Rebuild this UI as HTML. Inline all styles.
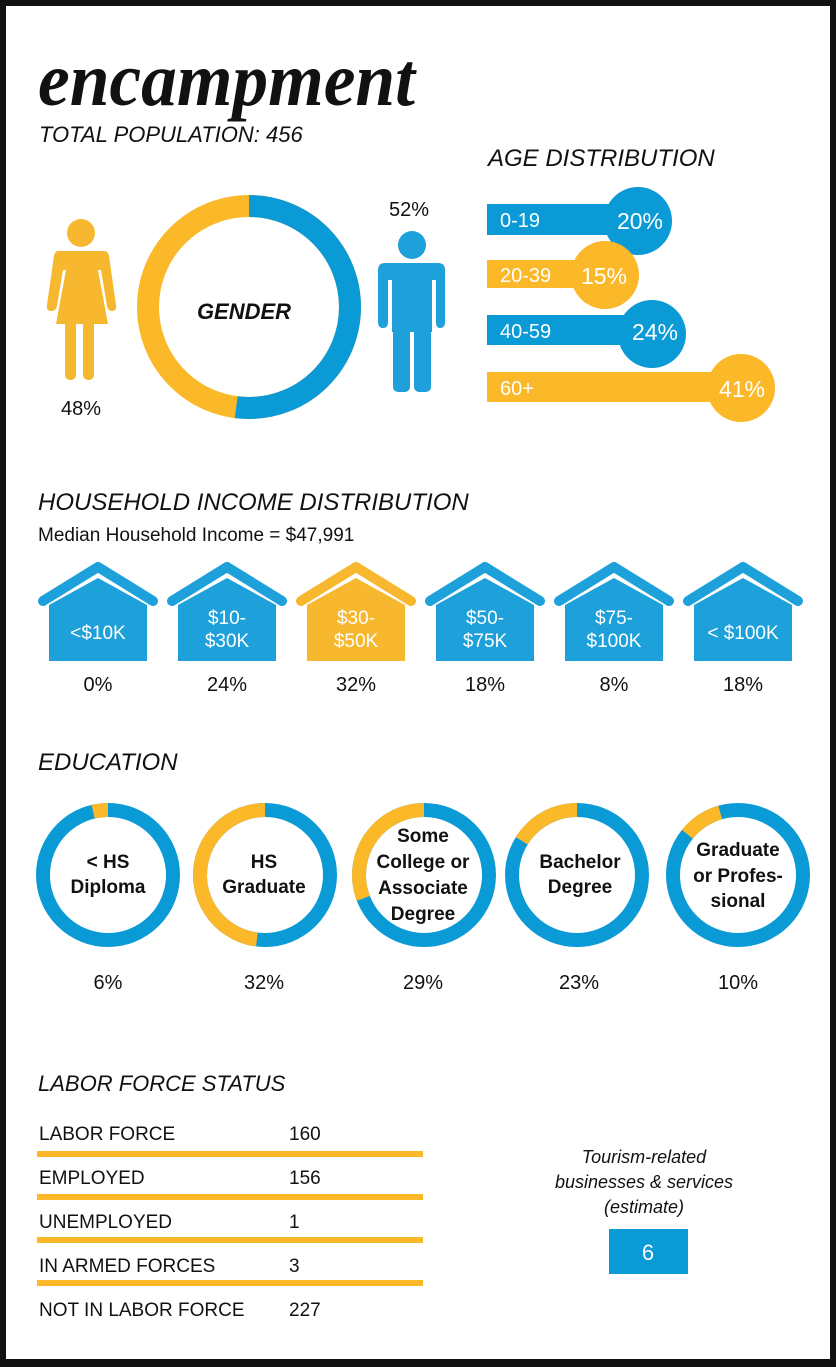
<!DOCTYPE html>
<html><head><meta charset="utf-8"><style>
html,body{margin:0;padding:0;background:#000;}
svg{display:block;}
text{font-family:"Liberation Sans",sans-serif;}
text.serif{font-family:"Liberation Serif",serif;}
</style></head><body>
<svg width="836" height="1367" viewBox="0 0 836 1367" xmlns="http://www.w3.org/2000/svg">
<rect x="0" y="0" width="836" height="1367" fill="#111"/>
<rect x="6" y="6" width="824" height="1353" fill="#fff"/>
<text class="serif" x="38" y="105" font-style="italic" font-weight="bold" font-size="76" textLength="377" lengthAdjust="spacingAndGlyphs" fill="#111">encampment</text>
<text x="39" y="142" font-style="italic" font-size="22" fill="#111">TOTAL POPULATION: 456</text>

<!-- gender donut -->
<g transform="translate(249,307)">
<circle r="101" fill="none" stroke="#fbb829" stroke-width="22"/>
<circle r="101" fill="none" stroke="#0a9ad6" stroke-width="22" stroke-dasharray="330 1000" transform="rotate(-90)"/>
</g>
<text x="244" y="319" text-anchor="middle" font-style="italic" font-weight="bold" font-size="22" fill="#111">GENDER</text>
<!-- female -->
<g fill="#f7b72e">
<circle cx="81" cy="233" r="14"/>
<path d="M58 251 L104 251 Q108 251 109 256 L116 305 Q117 311 112 311 Q108 311 107 306 L101 270 L98 270 L108 324 L56 324 L66 270 L63 270 L57 306 Q56 311 51 311 Q46 311 47 305 L54 256 Q55 251 58 251 Z"/>
<rect x="65" y="320" width="11" height="60" rx="5"/>
<rect x="83" y="320" width="11" height="60" rx="5"/>
</g>
<text x="81" y="415" text-anchor="middle" font-size="20" fill="#111">48%</text>
<!-- male -->
<g fill="#1ea0da">
<circle cx="412" cy="245" r="14"/>
<path d="M385 263 L438 263 Q445 263 445 270 L445 322 Q445 328 440 328 Q436 328 436 322 L436 280 L432 280 L432 332 L392 332 L392 280 L388 280 L388 322 Q388 328 383 328 Q378 328 378 322 L378 270 Q378 263 385 263 Z"/>
<rect x="393" y="320" width="17" height="72" rx="5"/>
<rect x="414" y="320" width="17" height="72" rx="5"/>
</g>
<text x="409" y="216" text-anchor="middle" font-size="20" fill="#111">52%</text>

<!-- age distribution -->
<text x="488" y="166" font-style="italic" font-size="24" fill="#111">AGE DISTRIBUTION</text>
<g font-size="20" fill="#fff">
<rect x="487" y="204" width="151" height="31" fill="#0a9ad6"/><circle cx="638" cy="221" r="34" fill="#0a9ad6"/>
<text x="500" y="227">0-19</text><text x="663" y="229" text-anchor="end" font-size="23">20%</text>
<rect x="487" y="260" width="118" height="28" fill="#fbb829"/><circle cx="605" cy="275" r="34" fill="#fbb829"/>
<text x="500" y="282">20-39</text><text x="627" y="284" text-anchor="end" font-size="23">15%</text>
<rect x="487" y="315" width="165" height="30" fill="#0a9ad6"/><circle cx="652" cy="334" r="34" fill="#0a9ad6"/>
<text x="500" y="338">40-59</text><text x="678" y="340" text-anchor="end" font-size="23">24%</text>
<rect x="487" y="372" width="254" height="30" fill="#fbb829"/><circle cx="741" cy="388" r="34" fill="#fbb829"/>
<text x="500" y="395">60+</text><text x="765" y="397" text-anchor="end" font-size="23">41%</text>
</g>

<!-- household income -->
<text x="38" y="510" font-style="italic" font-size="24" fill="#111">HOUSEHOLD INCOME DISTRIBUTION</text>
<text x="38" y="541" font-size="19" fill="#111">Median Household Income = $47,991</text>
<g>
<polyline points="43,601 98,567 153,601" fill="none" stroke="#1ea0da" stroke-width="10" stroke-linecap="round" stroke-linejoin="round"/>
<polygon points="49,661 49,605 98,578 147,605 147,661" fill="#1ea0da"/>
</g>
<g transform="translate(129,0)">
<polyline points="43,601 98,567 153,601" fill="none" stroke="#1ea0da" stroke-width="10" stroke-linecap="round" stroke-linejoin="round"/>
<polygon points="49,661 49,605 98,578 147,605 147,661" fill="#1ea0da"/>
</g>
<g transform="translate(258,0)">
<polyline points="43,601 98,567 153,601" fill="none" stroke="#f7b72e" stroke-width="10" stroke-linecap="round" stroke-linejoin="round"/>
<polygon points="49,661 49,605 98,578 147,605 147,661" fill="#f7b72e"/>
</g>
<g transform="translate(387,0)">
<polyline points="43,601 98,567 153,601" fill="none" stroke="#1ea0da" stroke-width="10" stroke-linecap="round" stroke-linejoin="round"/>
<polygon points="49,661 49,605 98,578 147,605 147,661" fill="#1ea0da"/>
</g>
<g transform="translate(516,0)">
<polyline points="43,601 98,567 153,601" fill="none" stroke="#1ea0da" stroke-width="10" stroke-linecap="round" stroke-linejoin="round"/>
<polygon points="49,661 49,605 98,578 147,605 147,661" fill="#1ea0da"/>
</g>
<g transform="translate(645,0)">
<polyline points="43,601 98,567 153,601" fill="none" stroke="#1ea0da" stroke-width="10" stroke-linecap="round" stroke-linejoin="round"/>
<polygon points="49,661 49,605 98,578 147,605 147,661" fill="#1ea0da"/>
</g>
<g font-size="19" fill="#fff" text-anchor="middle">
<text x="98" y="639">&lt;$10K</text>
<text x="227" y="624">$10-</text><text x="227" y="647">$30K</text>
<text x="356" y="624">$30-</text><text x="356" y="647">$50K</text>
<text x="485" y="624">$50-</text><text x="485" y="647">$75K</text>
<text x="614" y="624">$75-</text><text x="614" y="647">$100K</text>
<text x="743" y="639">&lt; $100K</text>
</g>
<g font-size="20" fill="#111" text-anchor="middle">
<text x="98" y="691">0%</text><text x="227" y="691">24%</text><text x="356" y="691">32%</text>
<text x="485" y="691">18%</text><text x="614" y="691">8%</text><text x="743" y="691">18%</text>
</g>

<!-- education -->
<text x="38" y="770" font-style="italic" font-size="24" fill="#111">EDUCATION</text>
<g fill="none" stroke-width="14">
<g transform="translate(108,875)"><circle r="65" stroke="#0a9ad6"/><circle r="65" stroke="#fbb829" stroke-dasharray="15 1000" transform="rotate(-90) scale(1,-1)"/></g>
<g transform="translate(265,875)"><circle r="65" stroke="#0a9ad6"/><circle r="65" stroke="#fbb829" stroke-dasharray="196 1000" transform="rotate(-90) scale(1,-1)"/></g>
<g transform="translate(424,875)"><circle r="65" stroke="#0a9ad6"/><circle r="65" stroke="#fbb829" stroke-dasharray="126 1000" transform="rotate(-90) scale(1,-1)"/></g>
<g transform="translate(577,875)"><circle r="65" stroke="#0a9ad6"/><circle r="65" stroke="#fbb829" stroke-dasharray="66 1000" transform="rotate(-90) scale(1,-1)"/></g>
<g transform="translate(738,875)"><circle r="65" stroke="#0a9ad6"/><circle r="65" stroke="#fbb829" stroke-dasharray="0 18 40 1000" transform="rotate(-90) scale(1,-1)"/></g>
</g>
<g font-size="19" font-weight="bold" fill="#111" text-anchor="middle">
<text x="108" y="868">&lt; HS</text><text x="108" y="893">Diploma</text>
<text x="264" y="868">HS</text><text x="264" y="893">Graduate</text>
<text x="423" y="842">Some</text><text x="423" y="868">College or</text><text x="423" y="894">Associate</text><text x="423" y="920">Degree</text>
<text x="580" y="868">Bachelor</text><text x="580" y="893">Degree</text>
<text x="738" y="856">Graduate</text><text x="738" y="882">or Profes-</text><text x="738" y="907">sional</text>
</g>
<g font-size="20" fill="#111" text-anchor="middle">
<text x="108" y="989">6%</text><text x="264" y="989">32%</text><text x="423" y="989">29%</text><text x="579" y="989">23%</text><text x="738" y="989">10%</text>
</g>

<!-- labor force -->
<text x="38" y="1091" font-style="italic" font-size="22" fill="#111">LABOR FORCE STATUS</text>
<g fill="#fbb829">
<rect x="37" y="1151" width="386" height="6"/><rect x="37" y="1194" width="386" height="6"/>
<rect x="37" y="1237" width="386" height="6"/><rect x="37" y="1280" width="386" height="6"/>
</g>
<g font-size="19" fill="#111">
<text x="39" y="1140">LABOR FORCE</text><text x="289" y="1140">160</text>
<text x="39" y="1184">EMPLOYED</text><text x="289" y="1184">156</text>
<text x="39" y="1228">UNEMPLOYED</text><text x="289" y="1228">1</text>
<text x="39" y="1272">IN ARMED FORCES</text><text x="289" y="1272">3</text>
<text x="39" y="1316">NOT IN LABOR FORCE</text><text x="289" y="1316">227</text>
</g>

<!-- tourism -->
<g font-size="18" font-style="italic" fill="#111" text-anchor="middle">
<text x="644" y="1163">Tourism-related</text>
<text x="644" y="1188">businesses &amp; services</text>
<text x="644" y="1213">(estimate)</text>
</g>
<rect x="609" y="1229" width="79" height="45" fill="#0a9ad6"/>
<text x="648" y="1260" text-anchor="middle" font-size="22" fill="#fff">6</text>
</svg>
</body></html>
